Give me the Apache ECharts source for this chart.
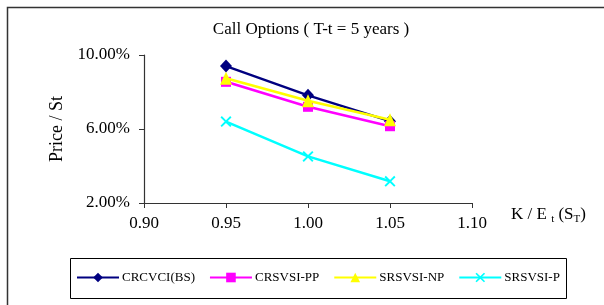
<!DOCTYPE html>
<html>
<head>
<meta charset="utf-8">
<script src="https://cdn.jsdelivr.net/npm/echarts@6/dist/echarts.min.js"></script>
<style>
html,body{margin:0;padding:0;background:#fff;}
#c{width:604px;height:305px;}
</style>
</head>
<body>
<div id="c"></div>
<script>
var titleText = 'Call Options ( T-t = 5 years )';
var yAxisName = 'Price / St';
var xValues = [0.95, 1.00, 1.05];
var seriesNames = ['CRCVCI(BS)', 'CRSVSI-PP', 'SRSVSI-NP', 'SRSVSI-P'];
var crcvciBS = [9.40, 7.82, 6.42];
var crsvsiPP = [8.55, 7.20, 6.15];
var srsvsiNP = [8.74, 7.53, 6.50];
var srsvsiP  = [6.40, 4.52, 3.17];
var yTicks = [2, 6, 10];
var xTicks = [0.90, 0.95, 1.00, 1.05, 1.10];

var SERIF = 'Liberation Serif, Times New Roman, serif';
var xMark = 'path://M0,1.2 L1.2,0 L5,3.8 L8.8,0 L10,1.2 L6.2,5 L10,8.8 L8.8,10 L5,6.2 L1.2,10 L0,8.8 L3.8,5 Z';

function pairs(vals){ return xValues.map(function(x,i){ return [x, vals[i]]; }); }

var styles = [
  {color:'#000080', symbol:'diamond', size:[12,13], width:2.4},
  {color:'#FF00FF', symbol:'rect', size:[10,10], width:2.6},
  {color:'#FFFF00', symbol:'triangle', size:[12,13], width:2.6},
  {color:'#00FFFF', symbol:xMark, size:[11,11], width:2.6}
];
var datasets = [crcvciBS, crsvsiPP, srsvsiNP, srsvsiP];

var chart = echarts.init(document.getElementById('c'), null, {renderer:'canvas'});
chart.setOption({
  animation:false,
  backgroundColor:'#fff',
  title:{text:titleText, left:306, textAlign:'center', top:16,
    textStyle:{fontFamily:SERIF, fontSize:17, fontWeight:'normal', color:'#000'}},
  grid:{left:144, right:132, top:55, bottom:102},
  legend:{data:seriesNames, left:71, top:266, itemWidth:42, itemHeight:12, itemGap:14,
    textStyle:{fontFamily:SERIF, fontSize:13, color:'#000', padding:[0,0,0,-2]}},
  xAxis:{type:'value', min:0.9, max:1.1, interval:0.05,
    axisLine:{lineStyle:{color:'#333', width:1.2}},
    axisTick:{show:true, length:5, inside:false, lineStyle:{color:'#333'}},
    splitLine:{show:false},
    axisLabel:{margin:12, fontFamily:SERIF, fontSize:17, color:'#000',
      formatter:function(v){ return v.toFixed(2); }}},
  yAxis:{type:'value', min:2, max:10, interval:4,
    name:yAxisName, nameLocation:'middle', nameGap:76, nameRotate:90,
    nameTextStyle:{fontFamily:SERIF, fontSize:18, color:'#000'},
    axisLine:{show:true, lineStyle:{color:'#333', width:1.2}},
    axisTick:{show:true, length:5, lineStyle:{color:'#333'}},
    splitLine:{show:false},
    axisLabel:{margin:14, fontFamily:SERIF, fontSize:17, color:'#000',
      formatter:function(v){ return v.toFixed(2)+'%'; }}},
  graphic:[
    {type:'rect', left:5, top:5, shape:{width:700, height:400}, style:{fill:'none', stroke:'#333', lineWidth:1.5}, z:-1},
    {type:'rect', left:68, top:256, shape:{width:496, height:40}, style:{fill:'none', stroke:'#000', lineWidth:1}},
    {type:'text', left:511, top:206, style:{
      text:'{a|K / E }{s|t}{a| (S}{s|T}{a|)}',
      rich:{a:{fontFamily:SERIF, fontSize:17, fill:'#000', lineHeight:20, verticalAlign:'bottom'},
            s:{fontFamily:SERIF, fontSize:11, fill:'#000', lineHeight:20, verticalAlign:'bottom', padding:[0,0,-2,0]}}}}
  ],
  series: datasets.map(function(d,i){
    var s = styles[i];
    return {name:seriesNames[i], type:'line', data:pairs(d),
      symbol:s.symbol, symbolSize:s.size, showSymbol:true,
      itemStyle:{color:s.color}, lineStyle:{color:s.color, width:s.width}, z:2+(i===2?1:0)};
  })
});
</script>
</body>
</html>
